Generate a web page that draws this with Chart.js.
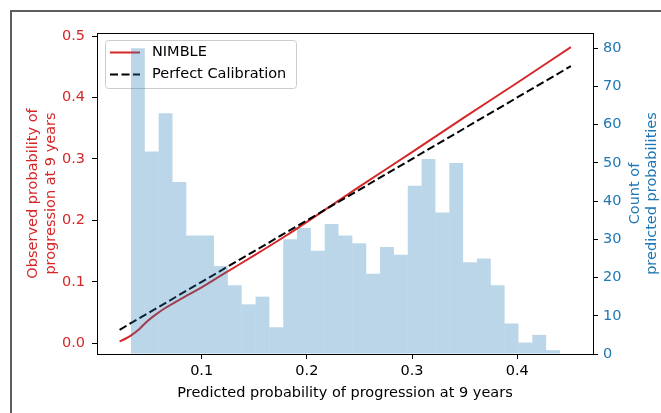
<!DOCTYPE html>
<html>
<head>
<meta charset="utf-8">
<script src="https://cdn.jsdelivr.net/npm/chart.js@4/dist/chart.umd.min.js"></script>
<style>
  html, body { margin: 0; padding: 0; background: #fff; }
  canvas { display: block; }
</style>
</head>
<body>
<canvas id="chartCalib" width="661" height="413"></canvas>
<script>
// Calibração NIMBLE + histograma das probabilidades previstas

// Curva NIMBLE
const nimbleX = [0.022, 0.027, 0.033, 0.040, 0.047, 0.055, 0.065, 0.080, 0.100, 0.120, 0.150, 0.180, 0.210, 0.250, 0.300, 0.350, 0.400, 0.451];
const nimbleY = [0.003, 0.007, 0.013, 0.022, 0.034, 0.045, 0.057, 0.072, 0.091, 0.112, 0.143, 0.175, 0.209, 0.255, 0.311, 0.368, 0.424, 0.482];

// Calibração perfeita
const perfectX = [0.022, 0.451];
const perfectY = [0.022, 0.451];

// Histograma (centro de cada bin e contagem)
const binCenters = [0.03938, 0.05253, 0.06569, 0.07884, 0.09200, 0.10515, 0.11831, 0.13146, 0.14462, 0.15777,
                    0.17093, 0.18408, 0.19724, 0.21039, 0.22355, 0.23670, 0.24986, 0.26301, 0.27617, 0.28932,
                    0.30248, 0.31563, 0.32879, 0.34194, 0.35510, 0.36825, 0.38141, 0.39456, 0.40772, 0.42087, 0.43403];
const binCounts = [80, 53, 63, 45, 31, 31, 23, 18, 13, 15,
                   7, 30, 33, 27, 34, 31, 29, 21, 28, 26,
                   44, 51, 37, 50, 24, 25, 18, 8, 3, 5, 1];

// Ticks
const xTicks = [0.1, 0.2, 0.3, 0.4];
const yTicks = [0.0, 0.1, 0.2, 0.3, 0.4, 0.5];
const countTicks = [0, 10, 20, 30, 40, 50, 60, 70, 80];

const RED = '#d62728';
const BLUE = '#1f77b4';
const FONT = "'DejaVu Sans'";

Chart.defaults.font.family = FONT;
Chart.defaults.font.size = 14.5;

const toPoints = (xs, ys) => xs.map((x, i) => ({ x: x, y: ys[i] }));

// Moldura, legenda e título do eixo da direita
const extras = {
    id: 'extras',
    beforeDraw(chart) {
        const ctx = chart.ctx;
        ctx.save();
        ctx.strokeStyle = '#5e5e5e';
        ctx.lineWidth = 2;
        ctx.beginPath();
        ctx.moveTo(11, 413);
        ctx.lineTo(11, 11);
        ctx.lineTo(661, 11);
        ctx.stroke();
        ctx.restore();
    },
    beforeDatasetsDraw(chart) {
        const ctx = chart.ctx;
        const ca = chart.chartArea;
        const bx = ca.left + 8, by = ca.top + 7, bw = 191, bh = 48;
        ctx.save();
        ctx.beginPath();
        ctx.roundRect(bx + 0.5, by + 0.5, bw, bh, 3);
        ctx.fillStyle = 'rgba(255,255,255,0.8)';
        ctx.fill();
        ctx.strokeStyle = '#cccccc';
        ctx.lineWidth = 1;
        ctx.stroke();

        const rows = [
            { label: 'NIMBLE', color: RED, dash: [] },
            { label: 'Perfect Calibration', color: '#000', dash: [8, 3.5] }
        ];
        rows.forEach((r, i) => {
            const y = by + 12.5 + i * 22;
            ctx.beginPath();
            ctx.setLineDash(r.dash);
            ctx.strokeStyle = r.color;
            ctx.lineWidth = 2;
            ctx.moveTo(bx + 5, y);
            ctx.lineTo(bx + 35, y);
            ctx.stroke();
            ctx.setLineDash([]);
            ctx.fillStyle = '#000';
            ctx.font = '14.5px ' + FONT;
            ctx.textBaseline = 'middle';
            ctx.textAlign = 'left';
            ctx.fillText(r.label, bx + 47, y);
        });
        ctx.restore();
    },
    afterDraw(chart) {
        const ctx = chart.ctx;
        const ca = chart.chartArea;
        ctx.save();
        // borda superior do gráfico
        ctx.strokeStyle = '#000';
        ctx.lineWidth = 1;
        ctx.beginPath();
        ctx.moveTo(ca.left, ca.top + 0.5);
        ctx.lineTo(ca.right + 1, ca.top + 0.5);
        ctx.stroke();

        // título do eixo da direita (lido de baixo para cima)
        ctx.translate(635, (ca.top + ca.bottom) / 2);
        ctx.rotate(-Math.PI / 2);
        ctx.fillStyle = BLUE;
        ctx.font = '14.5px ' + FONT;
        ctx.textAlign = 'center';
        ctx.textBaseline = 'middle';
        ctx.fillText('Count of', 0, 0);
        ctx.fillText('predicted probabilities', 0, 17);
        ctx.restore();
    }
};

const ctx = document.getElementById('chartCalib').getContext('2d');

new Chart(ctx, {
    type: 'line',
    data: {
        datasets: [
            {
                label: 'NIMBLE',
                data: toPoints(nimbleX, nimbleY),
                borderColor: RED,
                borderWidth: 2,
                pointRadius: 0,
                fill: false,
                cubicInterpolationMode: 'monotone',
                xAxisID: 'x',
                yAxisID: 'y',
                order: 2
            },
            {
                label: 'Perfect Calibration',
                data: toPoints(perfectX, perfectY),
                borderColor: '#000',
                borderWidth: 2,
                borderDash: [8, 3.5],
                pointRadius: 0,
                fill: false,
                xAxisID: 'x',
                yAxisID: 'y',
                order: 1
            },
            {
                type: 'bar',
                label: 'Count',
                data: toPoints(binCenters, binCounts),
                backgroundColor: 'rgba(31,119,180,0.3)',
                borderWidth: 0,
                inflateAmount: 0,
                barPercentage: 1,
                categoryPercentage: 1,
                xAxisID: 'x',
                yAxisID: 'y2',
                order: 0
            }
        ]
    },
    options: {
        responsive: false,
        animation: false,
        devicePixelRatio: 1,
        layout: { padding: { top: 33, left: 0, right: 0, bottom: 0 } },
        plugins: {
            legend: { display: false },
            tooltip: { enabled: false }
        },
        scales: {
            x: {
                type: 'linear',
                position: 'bottom',
                min: 0.0005,
                max: 0.472,
                offset: false,
                afterBuildTicks: s => { s.ticks = xTicks.map(v => ({ value: v })); },
                afterFit: s => { s.height = 59; },
                ticks: { color: '#000', padding: 4, callback: v => v.toFixed(1) },
                grid: { offset: false, drawOnChartArea: false, drawTicks: true, tickLength: 5, tickColor: '#000', tickWidth: 1 },
                border: { display: true, color: '#000', width: 1 },
                title: {
                    display: true,
                    text: 'Predicted probability of progression at 9 years',
                    color: '#000',
                    font: { size: 14.5, lineHeight: 1.2 },
                    padding: { top: 0, bottom: 11 }
                }
            },
            y: {
                type: 'linear',
                position: 'left',
                min: -0.0174,
                max: 0.5049,
                afterBuildTicks: s => { s.ticks = yTicks.map(v => ({ value: v })); },
                afterFit: s => { s.width = 97; },
                ticks: { color: RED, padding: 7, callback: v => v.toFixed(1) },
                grid: { drawOnChartArea: false, drawTicks: true, tickLength: 5, tickColor: '#000', tickWidth: 1 },
                border: { display: true, color: '#000', width: 1 },
                title: {
                    display: true,
                    text: ['Observed probability of', 'progression at 9 years'],
                    color: RED,
                    font: { size: 14.5, lineHeight: 1.2 },
                    padding: { top: 25, bottom: 0 }
                }
            },
            y2: {
                type: 'linear',
                position: 'right',
                min: 0,
                max: 84,
                afterBuildTicks: s => { s.ticks = countTicks.map(v => ({ value: v })); },
                afterFit: s => { s.width = 68; },
                ticks: { color: BLUE, padding: 5, callback: v => String(v) },
                grid: { drawOnChartArea: false, drawTicks: true, tickLength: 5, tickColor: '#000', tickWidth: 1 },
                border: { display: true, color: '#000', width: 1 },
                title: { display: false }
            }
        }
    },
    plugins: [extras]
});
</script>
</body>
</html>
